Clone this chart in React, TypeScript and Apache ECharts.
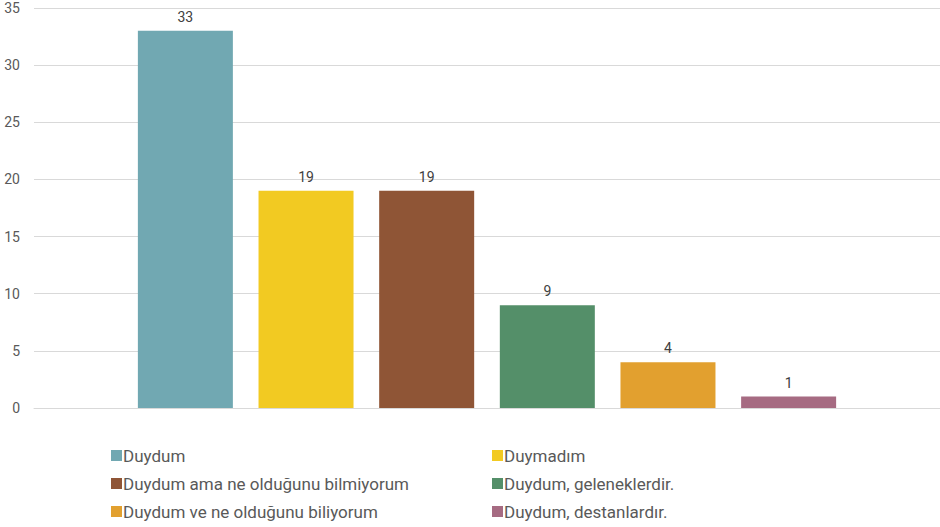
import React, { useEffect, useRef } from "react";
import * as echarts from "echarts";

const categories = [""];
const seriesNames = [
  "Duydum",
  "Duymadım",
  "Duydum ama ne olduğunu bilmiyorum",
  "Duydum, geleneklerdir.",
  "Duydum ve ne olduğunu biliyorum",
  "Duydum, destanlardır.",
];
const seriesValues = [33, 19, 19, 9, 4, 1];
const seriesColors = ["#71A8B2", "#F2CA22", "#8F5536", "#548F69", "#E2A02F", "#A66B82"];
const yTicks = [0, 5, 10, 15, 20, 25, 30, 35];

const FONT = "Roboto, 'Liberation Sans', sans-serif";

export default function App() {
  const ref = useRef<HTMLDivElement>(null);
  useEffect(() => {
    if (!ref.current) return;
    const chart = echarts.init(ref.current, undefined, { renderer: "svg" });
    const legends = seriesNames.map((name, i) => ({
      orient: "horizontal" as const,
      icon: "rect",
      itemWidth: 11,
      itemHeight: 11,
      left: i % 2 === 0 ? 106 : 487,
      top: 442 + Math.floor(i / 2) * 28,
      selectedMode: false,
      data: [name],
      textStyle: { fontSize: 17, color: "#595959", fontFamily: FONT, padding: [0, 0, 0, -4] },
    }));
    chart.setOption({
      animation: false,
      textStyle: { fontFamily: FONT },
      grid: { left: 34, right: 0, top: 8, bottom: 119, containLabel: false },
      legend: legends,
      xAxis: {
        type: "category",
        data: categories,
        axisLine: { show: true, lineStyle: { color: "#D9D9D9" } },
        axisTick: { show: false },
        axisLabel: { show: false },
      },
      yAxis: {
        type: "value",
        min: yTicks[0],
        max: yTicks[yTicks.length - 1],
        interval: 5,
        axisLine: { show: false },
        axisTick: { show: false },
        splitLine: { lineStyle: { color: "#D9D9D9" } },
        axisLabel: { color: "#595959", fontSize: 14, margin: 14, fontFamily: FONT },
      },
      series: seriesNames.map((name, i) => ({
        type: "bar",
        name,
        data: [seriesValues[i]],
        barWidth: 95,
        barGap: "27%",
        itemStyle: { color: seriesColors[i] },
        label: {
          show: true,
          position: "top",
          distance: 7,
          color: "#404040",
          fontSize: 14,
          fontFamily: FONT,
        },
      })),
    });
    return () => chart.dispose();
  }, []);
  return <div ref={ref} style={{ width: 940, height: 527, position: "absolute", left: 0, top: 0 }} />;
}
